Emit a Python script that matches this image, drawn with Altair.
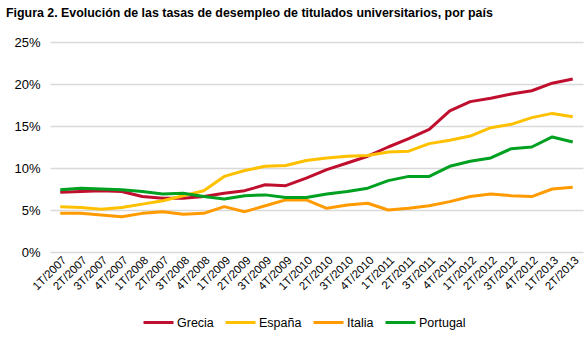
import altair as alt
import pandas as pd

# Quarter labels as printed on the axis (the sixth one reads 2T/2007 in the source figure)
quarters = [
    "1T/2007", "2T/2007", "3T/2007", "4T/2007",
    "1T/2008", "2T/2007", "3T/2008", "4T/2008",
    "1T/2009", "2T/2009", "3T/2009", "4T/2009",
    "1T/2010", "2T/2010", "3T/2010", "4T/2010",
    "1T/2011", "2T/2011", "3T/2011", "4T/2011",
    "1T/2012", "2T/2012", "3T/2012", "4T/2012",
    "1T/2013", "2T/2013",
]

countries = ["Grecia", "España", "Italia", "Portugal"]
colors = ["#C00F2E", "#FFC000", "#FF9B00", "#00A021"]

# Unemployment rate of university graduates, percent
grecia = [7.1, 7.2, 7.3, 7.2, 6.6, 6.4, 6.4, 6.6, 7.0, 7.3, 8.0, 7.9, 8.8,
          9.8, 10.6, 11.4, 12.5, 13.5, 14.6, 16.8, 17.9, 18.3, 18.8, 19.2, 20.1, 20.6]
espana = [5.4, 5.3, 5.1, 5.3, 5.7, 6.1, 6.7, 7.3, 9.0, 9.7, 10.2, 10.3, 10.9,
          11.2, 11.4, 11.5, 11.9, 12.0, 12.9, 13.3, 13.8, 14.8, 15.2, 16.0, 16.5, 16.1]
italia = [4.6, 4.6, 4.4, 4.2, 4.6, 4.8, 4.5, 4.6, 5.4, 4.8, 5.5, 6.2, 6.2,
          5.2, 5.6, 5.8, 5.0, 5.2, 5.5, 6.0, 6.6, 6.9, 6.7, 6.6, 7.5, 7.7]
portugal = [7.4, 7.6, 7.5, 7.4, 7.2, 6.9, 7.0, 6.6, 6.3, 6.7, 6.8, 6.5, 6.5,
            6.9, 7.2, 7.6, 8.5, 9.0, 9.0, 10.2, 10.8, 11.2, 12.3, 12.5, 13.7, 13.1]

series = {"Grecia": grecia, "España": espana, "Italia": italia, "Portugal": portugal}
rows = []
for name, vals in series.items():
    for i, v in enumerate(vals):
        rows.append({"q": i, "pais": name, "tasa": v})
df = pd.DataFrame(rows)

label_expr = "[" + ",".join("'" + q + "'" for q in quarters) + "][datum.value]"

FONT = "Liberation Sans"

chart = alt.Chart(df).mark_line(strokeWidth=3, strokeJoin="round").encode(
    x=alt.X(
        "q:O",
        title=None,
        scale=alt.Scale(padding=0.5),
        axis=alt.Axis(
            labelExpr=label_expr,
            labelAngle=-45,
            labelAlign="right",
            labelBaseline="top",
            labelFontSize=11.5,
            labelColor="#000000",
            labelFont=FONT,
            labelPadding=2,
            ticks=False,
            domain=False,
            grid=False,
        ),
    ),
    y=alt.Y(
        "tasa:Q",
        title=None,
        scale=alt.Scale(domain=[0, 25], nice=False),
        axis=alt.Axis(
            values=[0, 5, 10, 15, 20, 25],
            labelExpr="datum.value + '%'",
            labelFontSize=13,
            labelColor="#000000",
            labelFont=FONT,
            labelPadding=10,
            ticks=False,
            domain=False,
            gridColor="#D9D9D9",
            gridWidth=1.5,
        ),
    ),
    color=alt.Color(
        "pais:N",
        title=None,
        sort=countries,
        scale=alt.Scale(domain=countries, range=colors),
        legend=alt.Legend(
            orient="none",
            direction="horizontal",
            legendX=92,
            legendY=264,
            symbolType="stroke",
            symbolSize=900,
            symbolStrokeWidth=3,
            labelFontSize=12.5,
            labelFont=FONT,
            labelColor="#000000",
            labelOffset=2,
            columnPadding=5,
        ),
    ),
    order=alt.Order("q:O"),
).properties(
    width=533,
    height=210,
    title=alt.TitleParams(
        "Figura 2. Evolución de las tasas de desempleo de titulados universitarios, por país",
        anchor="start",
        font=FONT,
        fontSize=12.4,
        fontWeight="bold",
        color="#000000",
        dx=-8,
        offset=17,
    ),
    autosize=alt.AutoSizeParams(type="none"),
    padding={"left": 50, "top": 42, "right": 3, "bottom": 86},
).configure_view(stroke=None)

chart.save("out.html", embed_options={"renderer": "svg", "actions": False})
